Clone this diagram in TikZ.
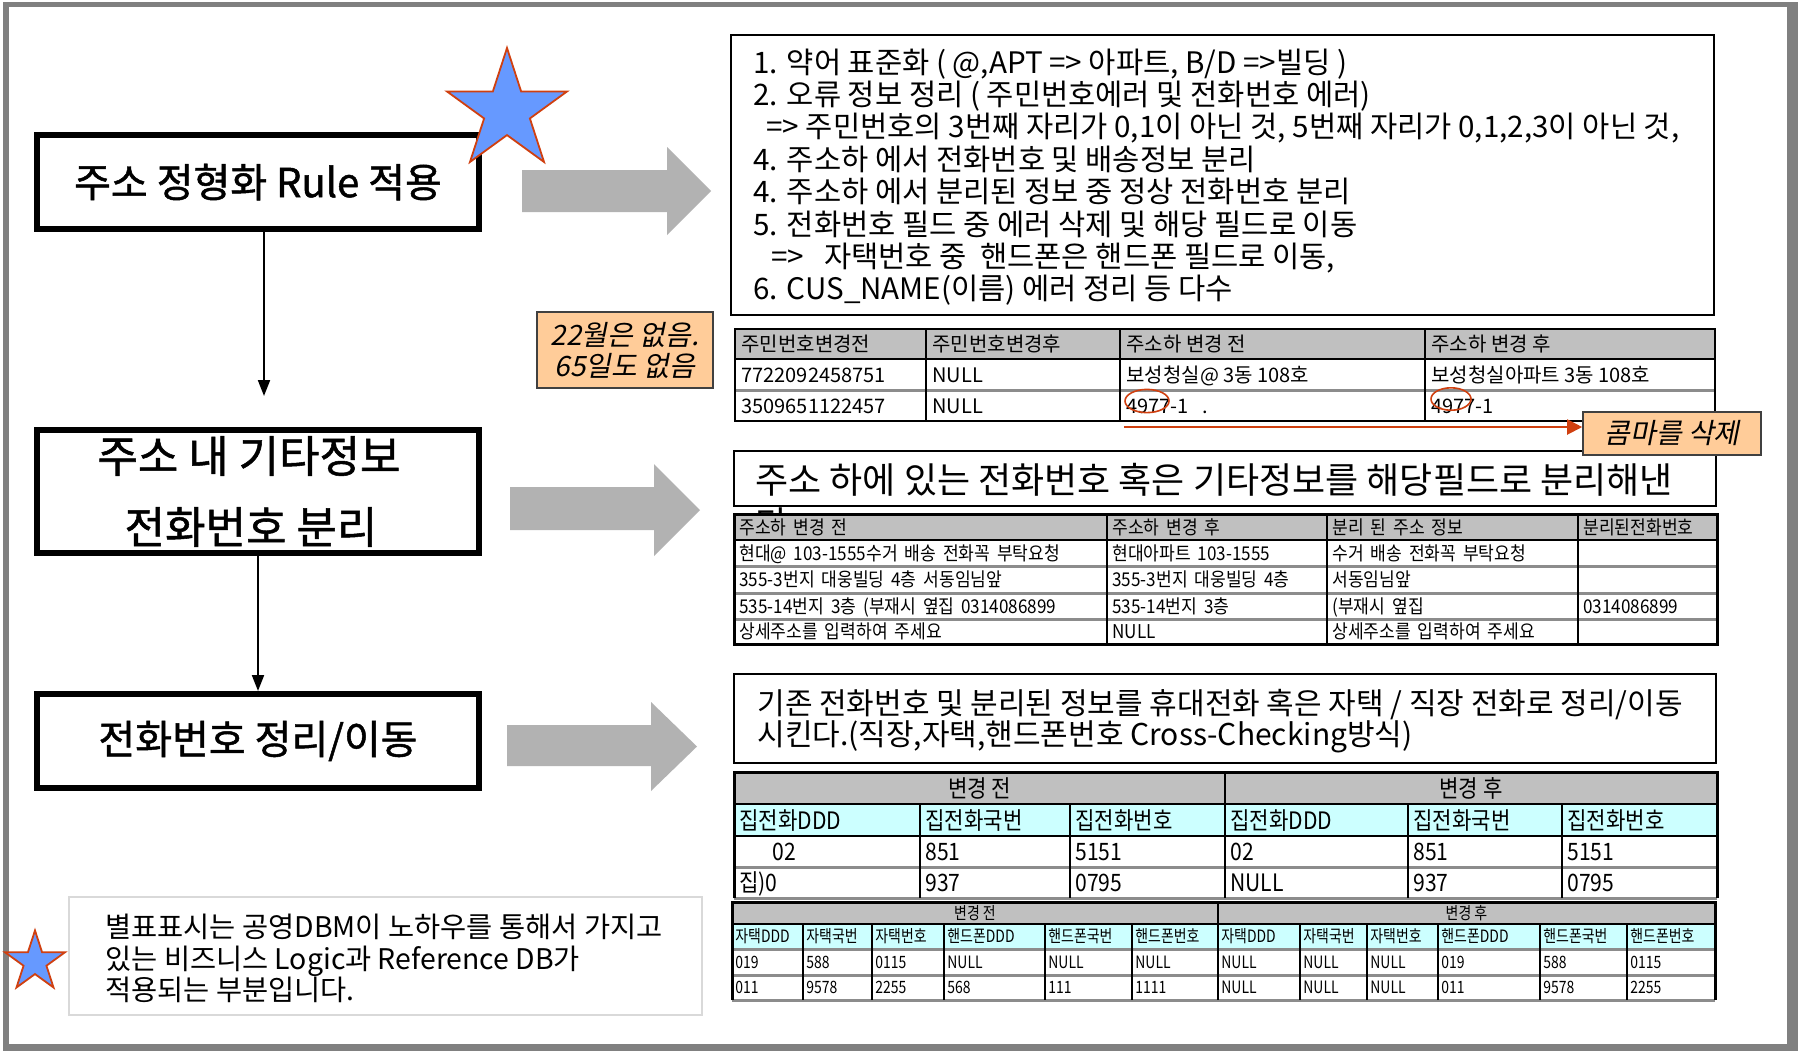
\documentclass[tikz,border=0pt]{standalone}
\usepackage{fontspec}
\setmainfont{Noto Sans CJK KR}
\newfontfamily\krA[FakeStretch=0.9,WordSpace=1.8]{Noto Sans CJK KR}
\newfontfamily\krB[FakeStretch=0.88]{Noto Sans CJK KR}
\newfontfamily\krC[FakeStretch=0.82]{Noto Sans CJK KR}
\newfontfamily\krBold[FakeBold=1.2]{Noto Sans CJK KR}
\newfontfamily\krSl[FakeSlant=0.2]{Noto Sans CJK KR}
\usetikzlibrary{shapes.geometric,arrows.meta}
\definecolor{frameg}{HTML}{808080}
\definecolor{arrowg}{HTML}{B2B2B2}
\definecolor{hdrg}{HTML}{C0C0C0}
\definecolor{rowg}{HTML}{8C8C8C}
\definecolor{cyanc}{HTML}{CCFFFF}
\definecolor{orangec}{HTML}{FFCC99}
\definecolor{redc}{HTML}{D04010}
\definecolor{starb}{HTML}{6699FF}
\definecolor{notebd}{HTML}{D9D9D9}
\begin{document}
\begin{tikzpicture}[x=0.5pt,y=-0.5pt,
  bigbox/.style={draw=black,line width=3pt,fill=white,inner sep=0pt,align=center,font=\krBold\fontsize{20}{35.5}\selectfont},
  conn/.style={line width=1pt,-{Triangle[length=8pt,width=6pt]}},
  rl/.style={anchor=base west,inner sep=0pt,font=\fontsize{14.8}{16}\selectfont},
  nl/.style={anchor=base west,inner sep=0pt,font=\fontsize{14.2}{15}\selectfont},
  tA/.style={anchor=base west,inner sep=0pt,font=\fontsize{10}{12}\selectfont},
  tB/.style={anchor=base west,inner sep=0pt,font=\krA\fontsize{9.5}{11}\selectfont},
  tC/.style={anchor=base west,inner sep=0pt,font=\krB\fontsize{12}{14}\selectfont},
  tCc/.style={anchor=base,inner sep=0pt,font=\krB\fontsize{12}{14}\selectfont},
  tD/.style={anchor=base west,inner sep=0pt,font=\krC\fontsize{8.5}{10}\selectfont},
  tDc/.style={anchor=base,inner sep=0pt,font=\krC\fontsize{8.5}{10}\selectfont},
  orangebox/.style={draw=black!75,line width=0.8pt,fill=orangec,align=center,inner sep=0pt,font=\krSl\fontsize{14}{15.5}\selectfont},
  bstar/.style={star,star points=5,star point ratio=2.618,inner sep=0pt,fill=starb,draw=redc,line width=0.9pt},
  greyrow/.style={rowg,line width=1.5pt},
  blackrow/.style={black,line width=1pt}]
\useasboundingbox (0,0) rectangle (1798,1051);
\fill[white] (0,0) rectangle (1798,1051);
\fill[frameg] (3,2) rectangle (1798,1051);
\fill[white] (9,7) rectangle (1787,1044);

% left flow boxes
\node[bigbox,minimum width=221pt,minimum height=47pt] (b1) at (258,182) {주소 정형화 Rule 적용};
\node[bigbox,minimum width=221pt,minimum height=61.5pt,font=\krBold\fontsize{22}{35.5}\selectfont] (b2) at (258,491.5) {주소 내 기타정보\hspace*{9pt}\\전화번호 분리\hspace*{7pt}};
\node[bigbox,minimum width=221pt,minimum height=47pt] (b3) at (258,741) {전화번호 정리/이동};
\coordinate (a1end) at (264,396);
\draw[conn] (b1.south -| a1end) -- (a1end);
\draw[conn] (b2.south) -- (b3.north);

% grey block arrows
\fill[arrowg] (522,170) -- (667,170) -- (667,147) -- (711,191) -- (667,235) -- (667,212) -- (522,212) -- cycle;
\fill[arrowg] (510,487) -- (654,487) -- (654,464) -- (700,510) -- (654,556) -- (654,530) -- (510,530) -- cycle;
\fill[arrowg] (507,725) -- (651,725) -- (651,702) -- (697,746.5) -- (651,791) -- (651,766) -- (507,766) -- cycle;

% stars
\node[bstar,minimum size=63pt] (star1) at (507,111) {};
\node[bstar,minimum size=31.5pt] (star2) at (35,962) {};

% right box 1
\draw[line width=1.2pt,fill=white] (731,35) rectangle (1714,315);
\node[rl] (r1a) at (753,73) {1. 약어 표준화 ( @,APT => 아파트, B/D =>빌딩 )};
\node[rl] (r1b) at (753,105.4) {2. 오류 정보 정리 ( 주민번호에러 및 전화번호 에러)};
\node[rl] (r1c) at (766,137.8) {=> 주민번호의 3번째 자리가 0,1이 아닌 것, 5번째 자리가 0,1,2,3이 아닌 것,};
\node[rl] (r1d) at (753,170.2) {4. 주소하 에서 전화번호 및 배송정보 분리};
\node[rl] (r1e) at (753,202.6) {4. 주소하 에서 분리된 정보 중 정상 전화번호 분리};
\node[rl] (r1f) at (753,235) {5. 전화번호 필드 중 에러 삭제 및 해당 필드로 이동};
\node[rl] (r1g) at (771,267.4) {=>\ \ \ 자택번호 중\ \ 핸드폰은 핸드폰 필드로 이동,};
\node[rl] (r1h) at (753,299.8) {6. CUS\_NAME(이름) 에러 정리 등 다수};

% orange note 1
\node[orangebox,minimum width=88pt,minimum height=38pt] (o1) at (625,350) {22월은 없음.\\65일도 없음};

% table 1
\fill[hdrg] (735,329) rectangle (1715,359);
\draw[greyrow] (735,390) -- (1715,390);
\draw[blackrow] (735,359) -- (1715,359);
\foreach \x in {926,1120,1425} \draw[blackrow] (\x,329) -- (\x,421);
\draw[line width=1.3pt] (735,329) rectangle (1715,421);
\foreach \x/\tx [count=\i] in {741/주민번호변경전,932/주민번호변경후,1126/주소하 변경 전,1431/주소하 변경 후}
  \node[tA] (t1h\i) at (\x,351.5) {\tx};
\foreach \x/\tx [count=\i] in {741/7722092458751,932/NULL,1126/보성청실@ 3동 108호,1431/보성청실아파트 3동 108호}
  \node[tA] (t1a\i) at (\x,382) {\tx};
\foreach \x/\tx [count=\i] in {741/3509651122457,932/NULL,1126/4977-1\ \ \ .,1431/4977-1}
  \node[tA] (t1b\i) at (\x,413) {\tx};
\draw[redc,line width=0.8pt] (1147,401) ellipse [x radius=11pt,y radius=5.8pt];
\draw[redc,line width=0.8pt] (1451,399) ellipse [x radius=10pt,y radius=5.6pt];

% right box 2
\draw[line width=1.2pt,fill=white] (734,451) rectangle (1716,506);
\node[anchor=base west,inner sep=0pt,font=\fontsize{18}{21}\selectfont] (r2a) at (755,493) {주소 하에 있는 전화번호 혹은 기타정보를 해당필드로 분리해낸};
\node[anchor=base west,inner sep=0pt,font=\fontsize{18}{21}\selectfont] (r2b) at (755,537) {다.};

% red arrow and comma note
\node[orangebox,minimum width=89pt,minimum height=21.5pt] (comma) at (1672,433.5) {콤마를 삭제};
\coordinate (redstart) at (1124,427);
\draw[redc,line width=1pt,-{Triangle[length=7.5pt,width=7.5pt]}] (redstart) -- (redstart -| comma.west);

% table 2
\fill[white] (734,514) rectangle (1717,644);
\fill[hdrg] (734,514) rectangle (1717,540);
\foreach \y in {566,593,619} \draw[greyrow] (734,\y) -- (1717,\y);
\draw[blackrow] (734,540) -- (1717,540);
\foreach \x in {1107,1327,1578} \draw[blackrow] (\x,514) -- (\x,644);
\draw[line width=1.5pt] (734,514) rectangle (1717,644);
\foreach \x/\tx [count=\i] in {739/주소하 변경 전,1112/주소하 변경 후,1332/분리 된 주소 정보,1583/분리된전화번호}
  \node[tB] (t2h\i) at (\x,534) {\tx};
\foreach \x/\tx [count=\i] in {739/현대@ 103-1555수거 배송 전화꼭 부탁요청,1112/현대아파트 103-1555,1332/수거 배송 전화꼭 부탁요청}
  \node[tB] (t2a\i) at (\x,560) {\tx};
\foreach \x/\tx [count=\i] in {739/355-3번지 대웅빌딩 4층 서동임님앞,1112/355-3번지 대웅빌딩 4층,1332/서동임님앞}
  \node[tB] (t2b\i) at (\x,586.5) {\tx};
\foreach \x/\tx [count=\i] in {739/535-14번지 3층 (부재시 옆집 0314086899,1112/535-14번지 3층,1332/(부재시 옆집,1583/0314086899}
  \node[tB] (t2c\i) at (\x,613) {\tx};
\foreach \x/\tx [count=\i] in {739/상세주소를 입력하여 주세요,1112/NULL,1332/상세주소를 입력하여 주세요}
  \node[tB] (t2d\i) at (\x,638.5) {\tx};

% right box 3
\draw[line width=1.2pt,fill=white] (734,674) rectangle (1716,763);
\node[anchor=base west,inner sep=0pt,font=\fontsize{15}{16}\selectfont] (r3a) at (757,714) {기존 전화번호 및 분리된 정보를 휴대전화 혹은 자택 / 직장 전화로 정리/이동};
\node[anchor=base west,inner sep=0pt,font=\fontsize{15}{16}\selectfont] (r3b) at (757,745) {시킨다.(직장,자택,핸드폰번호 Cross-Checking방식)};

% table 3
\fill[hdrg] (734,772) rectangle (1717,804);
\fill[cyanc] (734,804) rectangle (1717,836);
\draw[greyrow] (734,867) -- (1717,867);
\draw[greyrow] (734,898) -- (1717,898);
\draw[blackrow] (734,804) -- (1717,804);
\draw[blackrow] (734,836) -- (1717,836);
\foreach \x in {920,1070,1408,1562} \draw[blackrow] (\x,804) -- (\x,898);
\draw[line width=1.3pt] (1225,772) -- (1225,898);
\draw[line width=1.5pt] (734,898) -- (734,772) -- (1717,772) -- (1717,898);
\node[tCc] (t3h1) at (979.5,797) {변경 전};
\node[tCc] (t3h2) at (1471,797) {변경 후};
\foreach \x/\tx [count=\i] in {739/집전화DDD,925/집전화국번,1075/집전화번호,1230/집전화DDD,1413/집전화국번,1567/집전화번호}
  \node[tC] (t3s\i) at (\x,829) {\tx};
\foreach \x/\tx [count=\i] in {772/02,925/851,1075/5151,1230/02,1413/851,1567/5151}
  \node[tC] (t3a\i) at (\x,860.5) {\tx};
\foreach \x/\tx [count=\i] in {739/집)0,925/937,1075/0795,1230/NULL,1413/937,1567/0795}
  \node[tC] (t3b\i) at (\x,891.5) {\tx};

% table 4
\fill[hdrg] (732,902) rectangle (1715,924);
\fill[cyanc] (732,924) rectangle (1715,949);
\draw[greyrow] (732,949) -- (1715,949);
\draw[greyrow] (732,975) -- (1715,975);
\draw[greyrow] (732,1000) -- (1715,1000);
\draw[blackrow] (732,924) -- (1715,924);
\foreach \x in {803,872,944,1045,1132,1300,1367,1438,1540,1627} \draw[blackrow] (\x,924) -- (\x,1000);
\draw[line width=1.3pt] (1218,902) -- (1218,1000);
\draw[line width=1.5pt] (732,1000) -- (732,902) -- (1715,902) -- (1715,1000);
\node[tDc] (t4h1) at (975,919) {변경 전};
\node[tDc] (t4h2) at (1466.5,919) {변경 후};
\foreach \x/\tx [count=\i] in {735/자택DDD,806/자택국번,875/자택번호,947/핸드폰DDD,1048/핸드폰국번,1135/핸드폰번호,1221/자택DDD,1303/자택국번,1370/자택번호,1441/핸드폰DDD,1543/핸드폰국번,1630/핸드폰번호}
  \node[tD] (t4s\i) at (\x,942.5) {\tx};
\foreach \x/\tx [count=\i] in {735/019,806/588,875/0115,947/NULL,1048/NULL,1135/NULL,1221/NULL,1303/NULL,1370/NULL,1441/019,1543/588,1630/0115}
  \node[tD] (t4a\i) at (\x,968) {\tx};
\foreach \x/\tx [count=\i] in {735/011,806/9578,875/2255,947/568,1048/111,1135/1111,1221/NULL,1303/NULL,1370/NULL,1441/011,1543/9578,1630/2255}
  \node[tD] (t4b\i) at (\x,993.5) {\tx};

% note box
\draw[notebd,line width=1pt] (69,897) rectangle (702,1015);
\node[nl] (n1) at (105,937) {별표표시는 공영DBM이 노하우를 통해서 가지고};
\node[nl] (n2) at (105,969) {있는 비즈니스 Logic과 Reference DB가};
\node[nl] (n3) at (105,1000) {적용되는 부분입니다.};
\end{tikzpicture}
\end{document}
